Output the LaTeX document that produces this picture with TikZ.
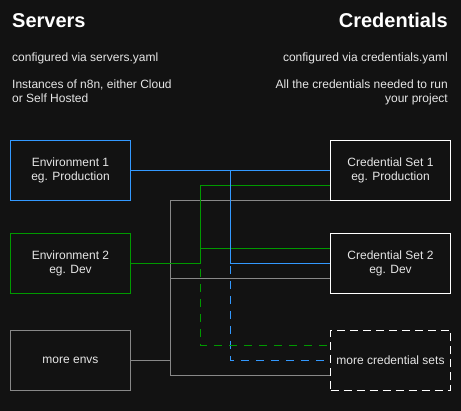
\documentclass[tikz,border=0pt]{standalone}
\usepackage{fontspec}
\setmainfont{Liberation Sans}
\definecolor{bg}{HTML}{121212}
\definecolor{lblue}{HTML}{3399FF}
\definecolor{lgreen}{HTML}{009900}
\definecolor{lgray}{HTML}{888888}
\definecolor{txt}{HTML}{E6E6E6}
\tikzset{
  box/.style={draw, line width=1pt, minimum width=120pt, minimum height=60pt, inner sep=0pt,
    align=center, text=txt, font=\fontsize{12}{14}\selectfont},
  conn/.style={line width=1pt},
  dconn/.style={line width=1pt, dash pattern=on 8pt off 7pt},
  head/.style={inner sep=0pt, text=white, font=\fontsize{20}{24}\selectfont\bfseries},
  note/.style={inner sep=0pt, text=txt, font=\fontsize{12}{15}\selectfont},
}
\begin{document}
\begin{tikzpicture}[x=1pt,y=-1pt]
\useasboundingbox (0,0) rectangle (461,411);
\fill[bg] (0,0) rectangle (461,411);

% headings and notes
\node[head, anchor=base west] (hs) at (12,28) {Servers};
\node[head, anchor=base east] (hc) at (448,28) {Credentials};
\node[note, anchor=base west] (n1) at (12,62) {configured via servers.yaml};
\node[note, anchor=base west] (n2) at (12,89) {Instances of n8n, either Cloud};
\node[note, anchor=base west] (n3) at (12,103) {or Self Hosted};
\node[note, anchor=base east] (m1) at (448,62) {configured via credentials.yaml};
\node[note, anchor=base east] (m2) at (448,89) {All the credentials needed to run};
\node[note, anchor=base east] (m3) at (448,103) {your project};

% boxes
\node[box, draw=lblue] (e1) at (70.5,170.5) {Environment 1\\eg. Production};
\node[box, draw=lgreen] (e2) at (70.5,263.5) {Environment 2\\eg. Dev};
\node[box, draw=lgray] (e3) at (70.5,360.5) {more envs};
\node[box, draw=white] (c1) at (390.5,170.5) {Credential Set 1\\eg. Production};
\node[box, draw=white] (c2) at (390.5,263.5) {Credential Set 2\\eg. Dev};
\node[box, draw=white, dash pattern=on 8pt off 5pt] (c3) at (390.5,360.5) {more credential sets};

% junctions
\coordinate (bj) at (230.5,170.5);
\coordinate (gj) at (200.5,263.5);
\coordinate (kj) at (170.5,360.5);

% dashed connectors
\draw[dconn, lblue] (e1.east) -- (bj) |- (c3.west);
\draw[dconn, lgreen] (e2.east) -- (gj) |- ([yshift=15pt]c3.west);

% solid connectors
\draw[conn, lgray] (e3.east) -- (kj) |- (c1.south west);
\draw[conn, lgray] (e3.east) -- (kj) |- ([yshift=-15pt]c2.west);
\draw[conn, lgray] (e3.east) -- (kj) |- ([yshift=-15pt]c3.west);
\draw[conn, lgreen] (e2.east) -- (gj) |- ([yshift=-15pt]c1.west);
\draw[conn, lgreen] (e2.east) -- (gj) |- ([yshift=15pt]c2.west);
\draw[conn, lblue] (e1.east) -- (c1.west);
\draw[conn, lblue] (e1.east) -- (bj) |- (c2.west);
\end{tikzpicture}
\end{document}
